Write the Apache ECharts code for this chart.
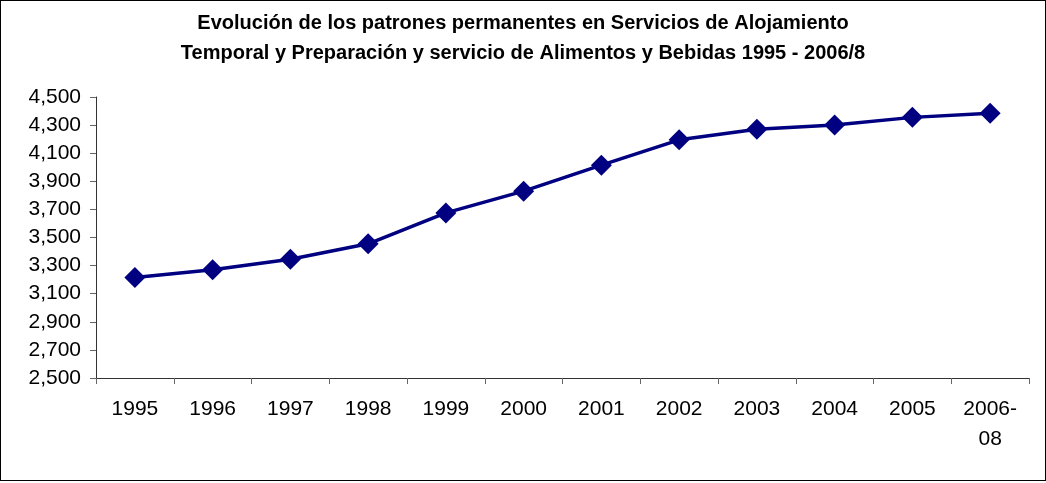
<!DOCTYPE html>
<html>
<head>
<meta charset="utf-8">
<script src="https://cdn.jsdelivr.net/npm/echarts@6/dist/echarts.min.js"></script>
<style>
  html, body { margin: 0; padding: 0; background: #fff; }
  #main { position: absolute; left: 0; top: 0; width: 1044px; height: 479px; border: 1px solid #000; }
</style>
</head>
<body>
<div id="main"></div>
<script>
const categories = ['1995', '1996', '1997', '1998', '1999', '2000', '2001', '2002', '2003', '2004', '2005', '2006-\n08'];
const patrones = [3215, 3270, 3345, 3455, 3675, 3830, 4015, 4195, 4270, 4300, 4355, 4385];
const titleLines = [
    'Evolución de los patrones permanentes en Servicios de Alojamiento',
    'Temporal y Preparación y servicio de Alimentos y Bebidas 1995 - 2006/8'
];

const chart = echarts.init(document.getElementById('main'));
chart.setOption({
    animation: false,
    textStyle: { fontFamily: 'Liberation Sans, Arial, sans-serif' },
    title: {
        text: titleLines.join('\n'),
        left: 'center',
        top: 2,
        textStyle: {
            fontFamily: 'Liberation Sans, Arial, sans-serif',
            fontSize: 20,
            fontWeight: 'bold',
            lineHeight: 30,
            color: '#000'
        }
    },
    grid: { left: 95, right: 16, top: 96, bottom: 102 },
    xAxis: {
        type: 'category',
        data: categories,
        boundaryGap: true,
        axisLine: { lineStyle: { color: '#333', width: 1 } },
        axisTick: { show: true, length: 6, lineStyle: { color: '#666' } },
        axisLabel: { color: '#000', fontSize: 21, margin: 16, lineHeight: 30, interval: 0 }
    },
    yAxis: {
        type: 'value',
        min: 2500,
        max: 4500,
        interval: 200,
        splitLine: { show: false },
        axisLine: { show: true, lineStyle: { color: '#333', width: 1 } },
        axisTick: { show: true, length: 6, lineStyle: { color: '#666' } },
        axisLabel: {
            color: '#000',
            fontSize: 21,
            margin: 15,
            formatter: v => v.toLocaleString('en-US')
        }
    },
    series: [{
        name: 'Patrones',
        type: 'line',
        data: patrones,
        symbol: 'diamond',
        symbolSize: 21,
        lineStyle: { color: '#000080', width: 3.5 },
        itemStyle: { color: '#000080' }
    }]
});
</script>
</body>
</html>
